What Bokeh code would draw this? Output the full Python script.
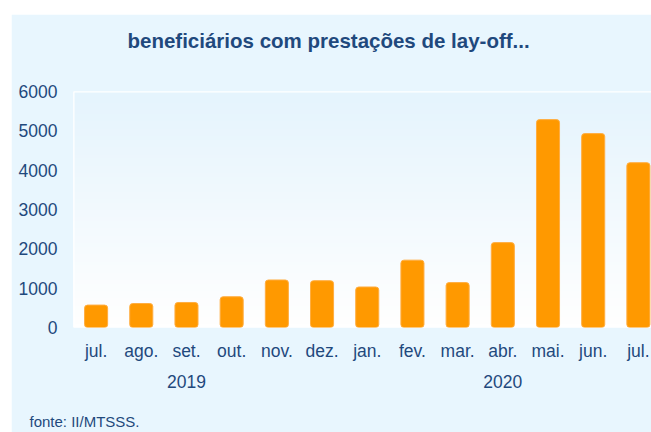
import numpy as np
from bokeh.plotting import figure
from bokeh.layouts import column, row
from bokeh.models import Range1d, FixedTicker, LinearAxis, Title, Span, Spacer
from bokeh.embed import file_html
from bokeh.resources import INLINE

months = ["jul.", "ago.", "set.", "out.", "nov.", "dez.", "jan.", "fev.", "mar.", "abr.", "mai.", "jun.", "jul."]
years = ["2019", "2019", "2019", "2019", "2019", "2019", "2020", "2020", "2020", "2020", "2020", "2020", "2020"]
values = [570, 610, 636, 782, 1208, 1190, 1030, 1712, 1142, 2158, 5285, 4930, 4190]
y_ticks = [0, 1000, 2000, 3000, 4000, 5000, 6000]
title_text = "beneficiários com prestações de lay-off..."
source_text = "fonte: II/MTSSS."

BG = "#e8f6fe"
TXT = "#1f497d"
FONT = "Liberation Sans"

x = list(range(len(months)))
year_names = sorted(set(years))
year_pos = [int(np.mean([i for i, yv in enumerate(years) if yv == yn])) for yn in year_names]

p = figure(width=640, height=418, output_backend="svg", toolbar_location=None,
           x_range=Range1d(-0.5, 12.29), y_range=Range1d(0, 6000),
           min_border_left=62, min_border_right=0, min_border_top=77, min_border_bottom=105)
p.border_fill_color = BG
p.background_fill_color = "white"
p.outline_line_color = None
p.grid.visible = False

# gradient background of the plot area (styling)
n = 64
t = np.linspace(0, 1, n)[:, None]  # 0 bottom -> 1 top
top_rgb = np.array([229, 244, 253])
bot_rgb = np.array([255, 255, 255])
rgb = (bot_rgb + (top_rgb - bot_rgb) * t).astype(np.uint32)
img = np.empty((n, 1), dtype=np.uint32)
view = img.view(dtype=np.uint8).reshape((n, 1, 4))
view[:, :, 0] = rgb[:, 0:1]
view[:, :, 1] = rgb[:, 1:2]
view[:, :, 2] = rgb[:, 2:3]
view[:, :, 3] = 255
p.image_rgba(image=[img], x=-0.5, y=0, dw=14, dh=6000)

p.add_layout(Span(location=6000, dimension="width", line_color="white", line_width=2))
p.add_layout(Span(location=-0.5, dimension="height", line_color="white", line_width=2))

p.vbar(x=x, top=values, width=0.51, fill_color="#ff9900", line_color="#ffad40",
       line_width=1, border_radius=3)

# y axis
p.yaxis.ticker = FixedTicker(ticks=y_ticks)
p.yaxis.axis_line_color = None
p.yaxis.major_tick_line_color = None
p.yaxis.minor_tick_line_color = None
p.yaxis.major_tick_out = 0
p.yaxis.major_label_standoff = 16
p.yaxis.major_label_text_font = FONT
p.yaxis.major_label_text_font_size = "17.5px"
p.yaxis.major_label_text_color = TXT

# month axis
xa = p.xaxis[0]
xa.ticker = FixedTicker(ticks=x)
xa.major_label_overrides = {i: m for i, m in enumerate(months)}
xa.axis_line_color = None
xa.major_tick_line_color = None
xa.minor_tick_line_color = None
xa.major_tick_out = 0
xa.major_label_standoff = 13
xa.major_label_text_font = FONT
xa.major_label_text_font_size = "17.5px"
xa.major_label_text_color = TXT

# year axis
ya = LinearAxis(ticker=FixedTicker(ticks=year_pos),
                major_label_overrides={pos: yn for pos, yn in zip(year_pos, year_names)})
ya.axis_line_color = None
ya.major_tick_line_color = None
ya.minor_tick_line_color = None
ya.major_tick_out = 0
ya.major_label_standoff = 11
ya.major_label_text_font = FONT
ya.major_label_text_font_size = "17.5px"
ya.major_label_text_color = TXT
p.add_layout(ya, "below")

p.add_layout(Title(text="\n" + source_text, align="left", offset=-44, text_font=FONT,
                   text_font_size="15px", text_font_style="normal", text_color=TXT,
                   standoff=6), "below")

p.title = Title(text=title_text + "\n", align="left", offset=54, text_font=FONT,
                text_font_size="20.5px", text_font_style="bold", text_color=TXT,
                text_line_height=1.45, standoff=13)

layout = column(Spacer(height=14), row(Spacer(width=11), p))

open("out.html", "w").write(file_html(layout, INLINE))
